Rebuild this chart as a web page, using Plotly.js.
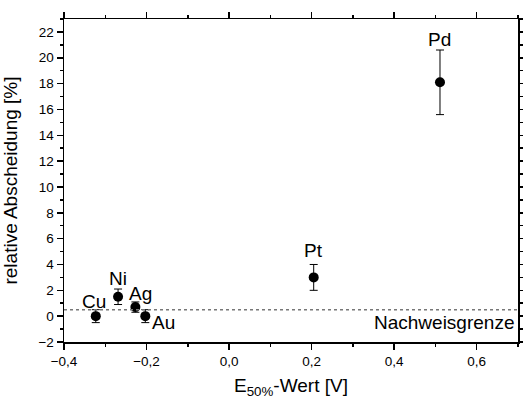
<!DOCTYPE html>
<html>
<head>
<meta charset="utf-8">
<script src="https://cdn.plot.ly/plotly-3.0.1.min.js"></script>
<style>html,body{margin:0;padding:0;background:#fff;}#chart{width:523px;height:399px;}</style>
</head>
<body>
<div id="chart"></div>
<script>
// Data
const elements = ["Cu", "Ni", "Ag", "Au", "Pt", "Pd"];
const e50 = [-0.323, -0.269, -0.227, -0.203, 0.205, 0.511];
const abscheidung = [0.0, 1.5, 0.7, 0.0, 3.0, 18.1];
const fehler = [0.5, 0.6, 0.4, 0.5, 1.0, 2.5];
const nachweisgrenze = 0.5;
const nachweisLabel = "Nachweisgrenze";

// label offsets in pixels (styling only)
const labelShift = {
  Cu: [-2, 15], Ni: [0, 18], Ag: [5, 14], Au: [18, -6], Pt: [0, 27], Pd: [0, 43]
};

const FONT = "'Liberation Sans', Arial, sans-serif";

const trace = {
  type: "scatter",
  mode: "markers",
  x: e50,
  y: abscheidung,
  marker: {symbol: "circle", size: 10, color: "#000"},
  error_y: {type: "data", array: fehler, visible: true, color: "#000", thickness: 1, width: 4},
  hoverinfo: "skip",
  showlegend: false
};

const annotations = elements.map((el, i) => ({
  x: e50[i], y: abscheidung[i], xref: "x", yref: "y",
  text: el, showarrow: false,
  xshift: labelShift[el][0], yshift: labelShift[el][1],
  font: {family: FONT, size: 19, color: "#000"}
}));
annotations.push({
  x: 1, xref: "paper", y: nachweisgrenze, yref: "y",
  text: nachweisLabel, showarrow: false, xanchor: "right", yanchor: "middle",
  xshift: -2, yshift: -13,
  font: {family: FONT, size: 19, color: "#000"}
});

const layout = {
  width: 523, height: 399,
  margin: {l: 64, r: 5, t: 19, b: 57},
  paper_bgcolor: "#fff", plot_bgcolor: "#fff",
  separators: ", ",
  font: {family: FONT, color: "#000"},
  xaxis: {
    range: [-0.4, 0.7], tick0: 0, dtick: 0.2, tickformat: ".1f",
    showgrid: false, zeroline: false,
    showline: true, linecolor: "#000", linewidth: 1.5, mirror: "ticks",
    ticks: "outside", ticklen: 6, tickwidth: 1.5, tickcolor: "#000",
    minor: {dtick: 0.1, ticks: "outside", ticklen: 3, tickwidth: 1.5, tickcolor: "#000", showgrid: false},
    tickfont: {family: FONT, size: 13.5, color: "#000"},
    title: {text: "E<sub>50%</sub>-Wert [V]", font: {family: FONT, size: 19, color: "#000"}}
  },
  yaxis: {
    range: [-2, 23], tick0: 0, dtick: 2,
    showgrid: false, zeroline: false,
    showline: true, linecolor: "#000", linewidth: 1.5, mirror: "ticks",
    ticks: "outside", ticklen: 6, tickwidth: 1.5, tickcolor: "#000",
    minor: {dtick: 1, ticks: "outside", ticklen: 3, tickwidth: 1.5, tickcolor: "#000", showgrid: false},
    tickfont: {family: FONT, size: 13.5, color: "#000"},
    title: {text: "relative Abscheidung [%]", font: {family: FONT, size: 19, color: "#000"}}
  },
  shapes: [{
    type: "line", xref: "paper", x0: 0, x1: 1, yref: "y", y0: nachweisgrenze, y1: nachweisgrenze,
    line: {color: "#777", width: 1.5, dash: "dot"}
  }],
  annotations: annotations
};

Plotly.newPlot("chart", [trace], layout, {displayModeBar: false, staticPlot: true});
</script>
</body>
</html>
